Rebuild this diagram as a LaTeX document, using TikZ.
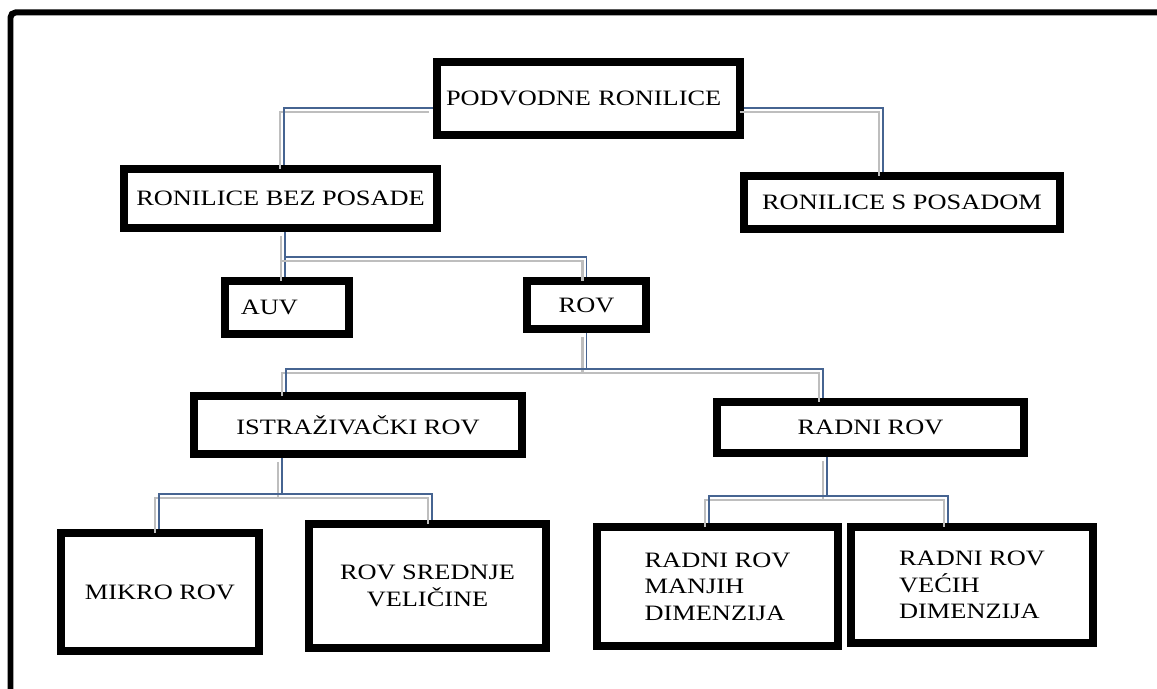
\documentclass[tikz,border=0pt]{standalone}
\usepackage{fontspec}
\setmainfont{Liberation Serif}[FakeStretch=1.2]
\usepackage{tikz}
\usetikzlibrary{positioning}

\definecolor{vezaplava}{RGB}{70,100,145}
\definecolor{vezasiva}{RGB}{190,190,190}

\tikzset{
    kutija/.style={draw=black, line width=0.16cm, fill=white, inner sep=2pt, align=center,
        font=\fontsize{12.5}{15}\selectfont},
    veza/.style={draw=vezaplava, line width=1.1pt,
        preaction={draw=vezasiva, line width=1.6pt, transform canvas={xshift=-0.08cm, yshift=-0.08cm}}}
}

\begin{document}
\begin{tikzpicture}[x=0.02cm, y=-0.02cm]
        \useasboundingbox (0,0) rectangle (1157,689);
        \draw[line width=0.12cm, rounded corners=0.1cm] (10.5,700) -- (10.5,12.5) -- (1170,12.5);

        \node (root) at (588.5,98.5) [kutija, text width=5.7cm, align=left, minimum width=6.06cm, minimum height=1.46cm] {PODVODNE RONILICE};
        \node (bez) at (280.5,198.5) [kutija, minimum width=6.26cm, minimum height=1.18cm] {RONILICE BEZ POSADE};
        \node (sposadom) at (902,202.5) [kutija, minimum width=6.32cm, minimum height=1.06cm] {RONILICE S POSADOM};
        \node (auv) at (287,307.5) [kutija, text width=1.85cm, align=left, minimum width=2.48cm, minimum height=1.06cm] {AUV};
        \node (rov) at (586.5,305) [kutija, minimum width=2.38cm, minimum height=0.96cm] {ROV};
        \node (istr) at (358,425) [kutija, minimum width=6.56cm, minimum height=1.16cm] {ISTRAŽIVAČKI ROV};
        \node (radni) at (870.5,427.5) [kutija, minimum width=6.14cm, minimum height=1.02cm] {RADNI ROV};
        \node (mikro) at (160,592) [kutija, minimum width=3.96cm, minimum height=2.36cm] {MIKRO ROV};
        \node (srednje) at (427.5,586) [kutija, minimum width=4.74cm, minimum height=2.48cm] {ROV SREDNJE\\ VELIČINE};
        \node (manjih) at (717.5,586.5) [kutija, align=left, minimum width=4.82cm, minimum height=2.38cm] {RADNI ROV\\MANJIH\\DIMENZIJA};
        \node (vecih) at (972,585) [kutija, align=left, minimum width=4.84cm, minimum height=2.32cm] {RADNI ROV\\VEĆIH\\DIMENZIJA};

        % cvorovi grananja
        \coordinate (j0l) at (284,108);
        \coordinate (j0r) at (883,108);
        \coordinate (j1) at (285,257);
        \coordinate (j2l) at (286,369);
        \coordinate (j2r) at (823,369);
        \coordinate (j3) at (282,494);
        \coordinate (j3l) at (159,494);
        \coordinate (j3r) at (432,494);
        \coordinate (j4) at (827,496);
        \coordinate (j4l) at (709,496);
        \coordinate (j4r) at (948,496);

        \draw[veza] (root.west |- j0l) -- (j0l) -- (j0l |- bez.north);
        \draw[veza] (root.east |- j0r) -- (j0r) -- (j0r |- sposadom.north);
        \draw[veza] (j1 |- bez.south) -- (j1 |- auv.north);
        \draw[veza] (j1) -| (rov.north);
        \draw[veza] (rov.south) -- (rov.south |- j2l);
        \draw[veza] (j2l |- istr.north) -- (j2l) -- (j2r) -- (j2r |- radni.north);
        \draw[veza] (j3 |- istr.south) -- (j3);
        \draw[veza] (j3l |- mikro.north) -- (j3l) -- (j3r) -- (j3r |- srednje.north);
        \draw[veza] (j4 |- radni.south) -- (j4);
        \draw[veza] (j4l |- manjih.north) -- (j4l) -- (j4r) -- (j4r |- vecih.north);
    \end{tikzpicture}
\end{document}
